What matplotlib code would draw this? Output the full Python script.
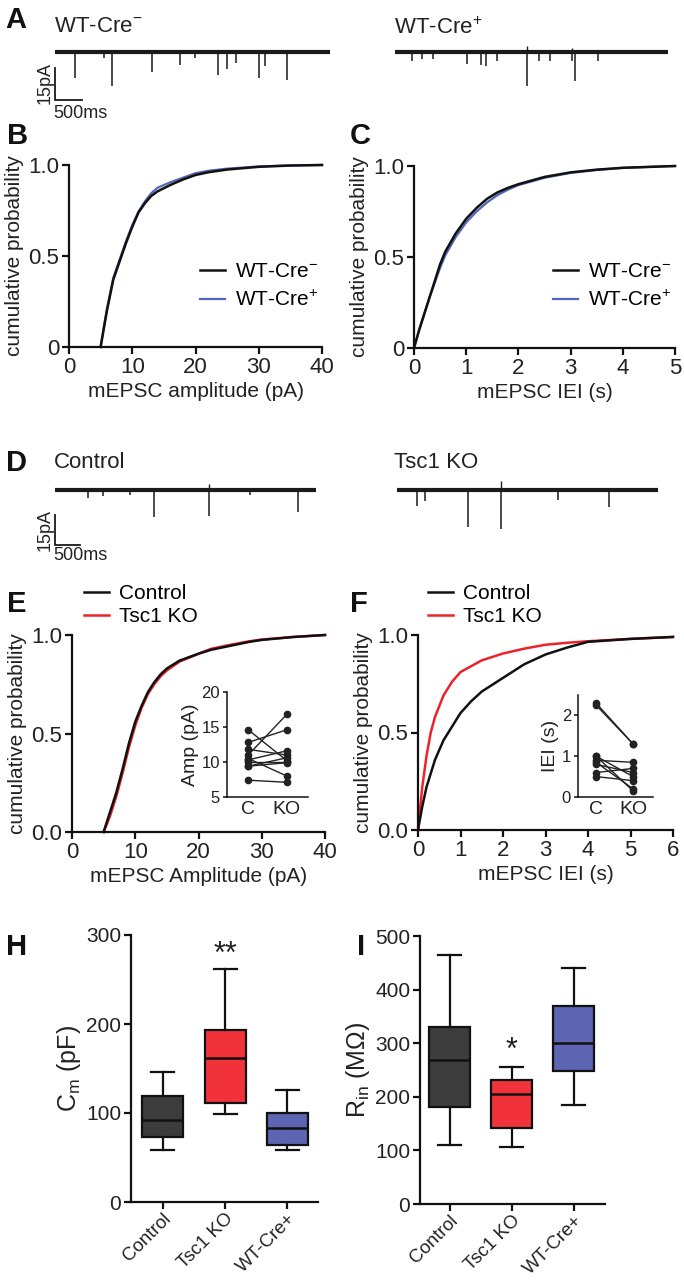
import matplotlib
matplotlib.use('Agg')
import matplotlib.pyplot as plt

plt.rcParams['font.family'] = ['Liberation Sans', 'DejaVu Sans']
plt.rcParams['mathtext.fontset'] = 'custom'
plt.rcParams['mathtext.rm'] = 'Liberation Sans'
plt.rcParams['mathtext.it'] = 'Liberation Sans:italic'
plt.rcParams['mathtext.bf'] = 'Liberation Sans:bold'

# ---------------- data ----------------
# Panel A traces (event time ms, amplitude pA)
a_left_dur = 5090
a_left_times = [370, 1060, 1800, 2310, 3010, 3180, 3350, 3780, 3890, 4300, 900, 2600]
a_left_amps = [12, 16, 9.4, 6, 11, 8, 5, 12, 6.6, 13, 3, 3]
a_right_dur = 5050
a_right_times = [315, 500, 700, 1330, 1590, 1680, 1890, 2440, 2670, 2870, 3280, 3330, 3760]
a_right_amps = [4, 3.5, 3.5, 5.4, 6.3, 6.6, 4, 16, 4, 4, 4, 13.6, 4]
a_right_up_times = [2440, 3280]
a_right_up_amps = [3, 2]

# Panel D traces
d_left_dur = 5220
d_left_times = [660, 960, 1980, 3080, 4860, 1500, 3900]
d_left_amps = [4, 3, 13.5, 13, 11, 2.5, 2.5]
d_left_up_times = [3080]
d_left_up_amps = [3]
d_right_dur = 5220
d_right_times = [400, 560, 1420, 2080, 3220, 4240]
d_right_amps = [8, 5.3, 18.6, 19.5, 5, 8.6]
d_right_up_times = [2080]
d_right_up_amps = [4.5]

# Panel B: cumulative amplitude distributions (pA, probability)
b_neg_x = [5, 5.5, 6, 7, 8, 9, 10, 11, 12, 13, 14, 16, 18, 20, 22, 25, 30, 35, 40]
b_neg_y = [0, 0.1, 0.2, 0.37, 0.47, 0.57, 0.66, 0.74, 0.79, 0.83, 0.855, 0.89, 0.92, 0.945, 0.96, 0.975, 0.99, 0.997, 1.0]
b_pos_x = [5, 5.5, 6, 7, 8, 9, 10, 11, 12, 13, 14, 16, 18, 20, 22, 25, 30, 35, 40]
b_pos_y = [0, 0.11, 0.21, 0.38, 0.48, 0.58, 0.67, 0.745, 0.80, 0.845, 0.875, 0.905, 0.93, 0.955, 0.968, 0.98, 0.992, 0.998, 1.0]

# Panel C: cumulative IEI distributions (s, probability)
c_neg_x = [0, 0.1, 0.2, 0.3, 0.4, 0.5, 0.6, 0.8, 1.0, 1.2, 1.4, 1.6, 1.8, 2.0, 2.5, 3.0, 3.5, 4.0, 5.0]
c_neg_y = [0, 0.1, 0.19, 0.28, 0.37, 0.46, 0.53, 0.63, 0.71, 0.77, 0.82, 0.855, 0.88, 0.9, 0.94, 0.965, 0.98, 0.99, 1.0]
c_pos_x = [0, 0.1, 0.2, 0.3, 0.4, 0.5, 0.6, 0.8, 1.0, 1.2, 1.4, 1.6, 1.8, 2.0, 2.5, 3.0, 3.5, 4.0, 5.0]
c_pos_y = [0, 0.1, 0.19, 0.28, 0.36, 0.44, 0.51, 0.61, 0.69, 0.75, 0.80, 0.84, 0.87, 0.895, 0.935, 0.962, 0.978, 0.99, 1.0]

# Panel E: cumulative amplitude (Control vs Tsc1 KO)
e_ctl_x = [5, 6, 7, 8, 9, 10, 11, 12, 13, 14, 15, 17, 20, 22, 25, 28, 30, 35, 40]
e_ctl_y = [0, 0.1, 0.2, 0.32, 0.45, 0.56, 0.64, 0.71, 0.76, 0.8, 0.83, 0.87, 0.905, 0.925, 0.945, 0.965, 0.975, 0.99, 1.0]
e_ko_x = [5, 6, 7, 8, 9, 10, 11, 12, 13, 14, 15, 17, 20, 22, 25, 28, 30, 35, 40]
e_ko_y = [0, 0.08, 0.18, 0.3, 0.43, 0.54, 0.63, 0.7, 0.75, 0.79, 0.82, 0.865, 0.905, 0.93, 0.95, 0.968, 0.977, 0.99, 1.0]
# Panel E inset: mean amplitude per cell (pA)
e_in_ctl = [14.6, 12.8, 11.0, 11.8, 10.3, 10.0, 10.5, 9.4, 7.4, 9.4]
e_in_ko = [10.2, 14.6, 16.8, 11.0, 11.6, 10.0, 8.0, 10.6, 7.1, 9.9]

# Panel F: cumulative IEI (Control vs Tsc1 KO)
f_ctl_x = [0, 0.1, 0.2, 0.4, 0.6, 0.8, 1.0, 1.25, 1.5, 2.0, 2.5, 3.0, 3.5, 4.0, 5.0, 6.0]
f_ctl_y = [0, 0.12, 0.22, 0.36, 0.46, 0.53, 0.6, 0.66, 0.71, 0.78, 0.85, 0.9, 0.935, 0.965, 0.98, 0.99]
f_ko_x = [0, 0.1, 0.2, 0.3, 0.4, 0.6, 0.8, 1.0, 1.5, 2.0, 2.5, 3.0, 3.5, 4.0, 5.0, 6.0]
f_ko_y = [0, 0.22, 0.38, 0.5, 0.58, 0.69, 0.76, 0.81, 0.87, 0.905, 0.93, 0.95, 0.96, 0.968, 0.98, 0.99]
# Panel F inset: mean IEI per cell (s)
f_in_ctl = [2.3, 2.25, 1.0, 0.9, 0.85, 0.8, 0.6, 0.5, 1.0]
f_in_ko = [1.3, 1.3, 0.5, 0.85, 0.2, 0.6, 0.7, 0.4, 0.15]

# Panels H, I: box statistics
groups = ['Control', 'Tsc1 KO', 'WT-Cre+']
h_whislo = [58, 99, 58]
h_q1 = [73, 111, 63.5]
h_med = [92, 161.5, 83]
h_q3 = [119, 193, 100]
h_whishi = [146, 262, 126]
i_whislo = [111, 107, 184]
i_q1 = [181, 141, 248]
i_med = [268, 205, 300]
i_q3 = [330, 232, 370]
i_whishi = [465, 256, 441]
box_colors = ['#3c3c3c', '#f2323b', '#5d64b1']

BLACK = '#111111'
BLUE = '#5566bb'
RED = '#ee2229'
TXT = '#222222'

# ---------------- layout ----------------
W, H = 684, 1280
fig = plt.figure(figsize=(6.84, 12.8), dpi=100)


def px_axes(x0, y0, x1, y1):
    return fig.add_axes([x0 / W, 1 - y1 / H, (x1 - x0) / W, (y1 - y0) / H])


def fig_text(x, y, s, **kw):
    fig.text(x / W, 1 - y / H, s, **kw)


def style(ax, lw=1.6, size=16, length=5):
    for s in ['top', 'right']:
        ax.spines[s].set_visible(False)
    for s in ['left', 'bottom']:
        ax.spines[s].set_linewidth(lw)
        ax.spines[s].set_color('#111111')
    ax.tick_params(direction='out', length=length, width=lw, labelsize=size, pad=2,
                   color='#111111', labelcolor=TXT)


def draw_trace(x0, x1, base_y, dur, times, amps, up_t, up_a, ppa, scalebar=None):
    ax = px_axes(x0, base_y - 30, x1, base_y + 70)
    ax.set_xlim(0, dur)
    ax.set_ylim(-70 / ppa, 30 / ppa)
    ax.axis('off')
    ax.plot([0, dur], [0, 0], color='#1a1a1a', lw=3.0, solid_capstyle='butt')
    ax.vlines(times, [-a for a in amps], 0, color='#1a1a1a', lw=1.1)
    if up_t:
        ax.vlines(up_t, 0, up_a, color='#1a1a1a', lw=1.0)
    if scalebar is not None:
        top, bot = scalebar
        ax.plot([0, 0, 500], [-top, -bot, -bot], color='#1a1a1a', lw=1.3,
                solid_joinstyle='miter', clip_on=False)
    return ax


# ---- Panel A ----
draw_trace(55, 330, 52, a_left_dur, a_left_times, a_left_amps, [], [], 32 / 15,
           scalebar=(7.5, 22.5))
draw_trace(395, 668, 52, a_right_dur, a_right_times, a_right_amps,
           a_right_up_times, a_right_up_amps, 32 / 15)
fig_text(54, 26, 'WT-Cre$^{-}$', fontsize=16, va='center', color=TXT)
fig_text(394, 28, 'WT-Cre$^{+}$', fontsize=16, va='center', color=TXT)
fig_text(45, 83, '15pA', fontsize=13, rotation=90, ha='center', va='center', color=TXT)
fig_text(53, 113, '500ms', fontsize=13, ha='left', va='center', color=TXT)

# ---- Panel D ----
draw_trace(55, 316, 490, d_left_dur, d_left_times, d_left_amps,
           d_left_up_times, d_left_up_amps, 30 / 15, scalebar=(12.5, 27.5))
draw_trace(397, 658, 490, d_right_dur, d_right_times, d_right_amps,
           d_right_up_times, d_right_up_amps, 30 / 15)
fig_text(54, 462, 'Control', fontsize=16, va='center', color=TXT)
fig_text(394, 462, 'Tsc1 KO', fontsize=16, va='center', color=TXT)
fig_text(45, 530, '15pA', fontsize=13, rotation=90, ha='center', va='center', color=TXT)
fig_text(53, 555, '500ms', fontsize=13, ha='left', va='center', color=TXT)

LEG = dict(frameon=False, fontsize=15, handlelength=1.2, handletextpad=0.5,
           borderpad=0, borderaxespad=0, bbox_transform=fig.transFigure, loc='upper left')

# ---- Panel B ----
axB = px_axes(69, 165, 322, 347)
axB.plot(b_neg_x, b_neg_y, color=BLACK, lw=1.8, clip_on=False, label='WT-Cre$^{-}$')
axB.plot(b_pos_x, b_pos_y, color=BLUE, lw=1.6, clip_on=False, label='WT-Cre$^{+}$', zorder=1)
axB.set_xlim(0, 40)
axB.set_ylim(0, 1)
axB.set_xticks([0, 10, 20, 30, 40])
axB.set_yticks([0, 0.5, 1.0])
axB.set_yticklabels(['0', '0.5', '1.0'])
style(axB)
axB.set_xlabel('mEPSC amplitude (pA)', fontsize=15, color=TXT, labelpad=3)
axB.set_ylabel('cumulative probability', fontsize=15, color=TXT, labelpad=3)
axB.legend(bbox_to_anchor=(200 / W, 1 - 262 / H), labelspacing=0.45, **LEG)

# ---- Panel C ----
axC = px_axes(414, 166, 675, 348)
axC.plot(c_neg_x, c_neg_y, color=BLACK, lw=1.8, clip_on=False, label='WT-Cre$^{-}$', zorder=3)
axC.plot(c_pos_x, c_pos_y, color=BLUE, lw=1.6, clip_on=False, label='WT-Cre$^{+}$', zorder=2)
axC.set_xlim(0, 5)
axC.set_ylim(0, 1)
axC.set_xticks([0, 1, 2, 3, 4, 5])
axC.set_yticks([0, 0.5, 1.0])
axC.set_yticklabels(['0', '0.5', '1.0'])
style(axC)
axC.set_xlabel('mEPSC IEI (s)', fontsize=15, color=TXT, labelpad=3)
axC.set_ylabel('cumulative probability', fontsize=15, color=TXT, labelpad=3)
axC.legend(bbox_to_anchor=(553 / W, 1 - 262 / H), labelspacing=0.45, **LEG)

# ---- Panel E ----
axE = px_axes(72, 635, 325, 832)
axE.plot(e_ko_x, e_ko_y, color=RED, lw=1.8, clip_on=False, label='Tsc1 KO', zorder=2)
axE.plot(e_ctl_x, e_ctl_y, color=BLACK, lw=1.8, clip_on=False, label='Control', zorder=3)
axE.set_xlim(0, 40)
axE.set_ylim(0, 1)
axE.set_xticks([0, 10, 20, 30, 40])
axE.set_yticks([0, 0.5, 1.0])
axE.set_yticklabels(['0.0', '0.5', '1.0'])
style(axE)
axE.set_xlabel('mEPSC Amplitude (pA)', fontsize=15, color=TXT, labelpad=3)
axE.set_ylabel('cumulative probability', fontsize=15, color=TXT, labelpad=3)
hE, lE = axE.get_legend_handles_labels()
axE.legend(hE[::-1], lE[::-1], bbox_to_anchor=(84 / W, 1 - 584 / H), labelspacing=0.2, **LEG)

axEi = px_axes(227, 692, 308, 797)
axEi.plot([0, 1], [e_in_ctl, e_in_ko], color=TXT, lw=1.0, marker='o', ms=4.5, clip_on=False)
axEi.set_xlim(-0.55, 1.55)
axEi.set_ylim(5, 20)
axEi.set_yticks([5, 10, 15, 20])
axEi.set_xticks([0, 1])
axEi.set_xticklabels(['C', 'KO'])
style(axEi, lw=1.1, size=12, length=3)
axEi.tick_params(axis='x', length=0, pad=3, labelsize=14)
axEi.set_ylabel('Amp (pA)', fontsize=14, color=TXT, labelpad=2)

# ---- Panel F ----
axF = px_axes(418, 635, 673, 830)
axF.plot(f_ko_x, f_ko_y, color=RED, lw=1.8, clip_on=False, label='Tsc1 KO', zorder=2)
axF.plot(f_ctl_x, f_ctl_y, color=BLACK, lw=1.8, clip_on=False, label='Control', zorder=3)
axF.set_xlim(0, 6)
axF.set_ylim(0, 1)
axF.set_xticks([0, 1, 2, 3, 4, 5, 6])
axF.set_yticks([0, 0.5, 1.0])
axF.set_yticklabels(['0.0', '0.5', '1.0'])
style(axF)
axF.set_xlabel('mEPSC IEI (s)', fontsize=15, color=TXT, labelpad=3)
axF.set_ylabel('cumulative probability', fontsize=15, color=TXT, labelpad=3)
hF, lF = axF.get_legend_handles_labels()
axF.legend(hF[::-1], lF[::-1], bbox_to_anchor=(428 / W, 1 - 584 / H), labelspacing=0.2, **LEG)

axFi = px_axes(578, 695, 653, 797)
axFi.plot([0, 1], [f_in_ctl, f_in_ko], color=TXT, lw=1.0, marker='o', ms=4.5, clip_on=False)
axFi.set_xlim(-0.49, 1.54)
axFi.set_ylim(0, 2.5)
axFi.set_yticks([0, 1, 2])
axFi.set_xticks([0, 1])
axFi.set_xticklabels(['C', 'KO'])
style(axFi, lw=1.1, size=12, length=3)
axFi.tick_params(axis='x', length=0, pad=3, labelsize=14)
axFi.set_ylabel('IEI (s)', fontsize=14, color=TXT, labelpad=2)


# ---- Panels H, I ----
def boxpanel(ax, whislo, q1, med, q3, whishi):
    stats = [dict(whislo=a, q1=b, med=c, q3=d, whishi=e, label=g)
             for a, b, c, d, e, g in zip(whislo, q1, med, q3, whishi, groups)]
    bp = ax.bxp(stats, positions=[1, 2, 3], widths=0.66, showfliers=False, patch_artist=True,
                capwidths=0.37,
                boxprops=dict(linewidth=1.6, edgecolor='#111111'),
                medianprops=dict(color='#111111', linewidth=1.8),
                whiskerprops=dict(color='#111111', linewidth=1.6),
                capprops=dict(color='#111111', linewidth=1.6))
    for patch, c in zip(bp['boxes'], box_colors):
        patch.set_facecolor(c)
    style(ax, size=15)
    ax.tick_params(axis='x', pad=1)
    ax.set_xticklabels(groups, rotation=45, ha='right', rotation_mode='anchor', fontsize=13.5)


axH = px_axes(131, 935, 318, 1202)
boxpanel(axH, h_whislo, h_q1, h_med, h_q3, h_whishi)
axH.set_xlim(0.49, 3.49)
axH.set_ylim(0, 300)
axH.set_yticks([0, 100, 200, 300])
axH.set_ylabel('C$_\\mathregular{m}$ (pF)', fontsize=18, color=TXT, labelpad=2)
axH.text(2, 278, '**', ha='center', va='center', fontsize=22, color=TXT)

axI = px_axes(420, 936, 605, 1204)
boxpanel(axI, i_whislo, i_q1, i_med, i_q3, i_whishi)
axI.set_xlim(0.52, 3.5)
axI.set_ylim(0, 500)
axI.set_yticks([0, 100, 200, 300, 400, 500])
axI.set_ylabel('R$_\\mathregular{in}$ (M\u03a9)', fontsize=18, color=TXT, labelpad=2)
axI.text(2, 285, '*', ha='center', va='center', fontsize=22, color=TXT)

# ---- panel letters ----
for lab, x, y in [('A', 5, 20), ('B', 7, 136), ('C', 350, 136), ('D', 6, 463),
                  ('E', 7, 604), ('F', 350, 604), ('H', 6, 947), ('I', 357, 947)]:
    fig_text(x, y, lab, fontsize=21, fontweight='bold', va='center', ha='left', color='#111111')

fig.savefig('out.png', dpi=100)
